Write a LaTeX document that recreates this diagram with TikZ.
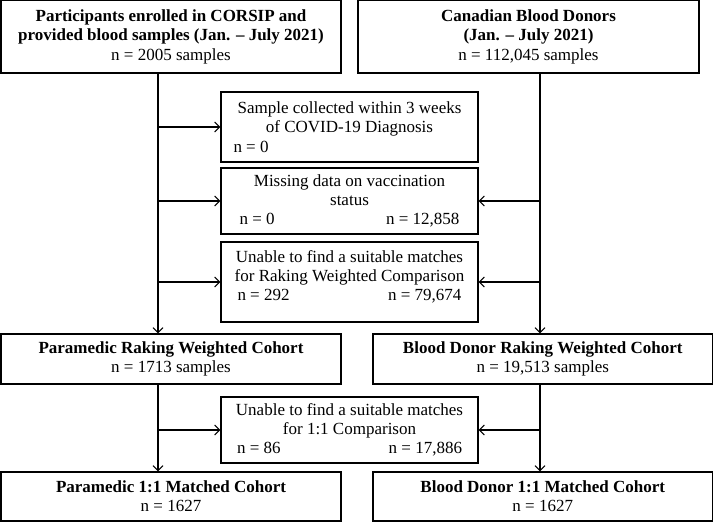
\documentclass[tikz,border=0pt]{standalone}
\usepackage{fontspec}
\setmainfont{Liberation Serif}
\usetikzlibrary{arrows.meta}
\begin{document}
\begin{tikzpicture}[x=1pt,y=-1pt,
  box/.style={draw, line width=1.1pt, rectangle, inner sep=0pt, align=center,
    font=\fontsize{17}{19.2}\selectfont},
  txt/.style={inner sep=0pt, align=center, font=\fontsize{17}{19.2}\selectfont},
  arr/.style={line width=1.1pt, -{Straight Barb[length=5pt,width=10pt,line width=1.1pt]}},
  ln/.style={line width=1.1pt}]
\useasboundingbox[fill=white] (0,0) rectangle (714,522);
\coordinate (lx) at (158,0);
\coordinate (rx) at (540,0);
% top boxes
\node[box, minimum width=340, minimum height=72.5] (top1) at (171,36.75)
  {\textbf{Participants enrolled in CORSIP and}\\
   \textbf{provided blood samples (Jan. – July 2021)}\\
   n = 2005 samples};
\node[box, minimum width=341, minimum height=72.5] (top2) at (528.5,36.75)
  {\textbf{Canadian Blood Donors}\\
   \textbf{(Jan. – July 2021)}\\
   n = 112,045 samples};
% exclusion boxes
\node[box, minimum width=257, minimum height=70] (x1) at (349.5,127)
  {Sample collected within 3 weeks\\
   of COVID-19 Diagnosis\\
   \makebox[232pt][l]{n = 0}};
\node[box, minimum width=257, minimum height=66] (x2) at (349.5,201)
  {Missing data on vaccination\\
   status\\
   \makebox[220pt]{n = 0\hfill n = 12,858}};
\node[box, minimum width=257, minimum height=80] (x3) at (349.5,282) {};
\node[txt] (x3t) at (349.5,277)
  {Unable to find a suitable matches\\
   for Raking Weighted Comparison\\
   \makebox[224pt]{n = 292\hfill n = 79,674}};
% middle boxes
\node[box, minimum width=340, minimum height=50] (mid1) at (171,359)
  {\textbf{Paramedic Raking Weighted Cohort}\\
   n = 1713 samples};
\node[box, minimum width=339.5, minimum height=50] (mid2) at (542.75,359)
  {\textbf{Blood Donor Raking Weighted Cohort}\\
   n = 19,513 samples};
% second exclusion
\node[box, minimum width=257, minimum height=66] (x4) at (349.5,430)
  {Unable to find a suitable matches\\
   for 1:1 Comparison\\
   \makebox[225pt]{n = 86\hfill n = 17,886}};
% bottom boxes
\node[box, minimum width=340, minimum height=49] (bot1) at (171,496.5)
  {\textbf{Paramedic 1:1 Matched Cohort}\\
   n = 1627};
\node[box, minimum width=339.5, minimum height=49] (bot2) at (542.75,496.5)
  {\textbf{Blood Donor 1:1 Matched Cohort}\\
   n = 1627};
% vertical flows
\draw[arr] (top1.south -| lx) -- (mid1.north -| lx);
\draw[arr] (top2.south -| rx) -- (mid2.north -| rx);
\draw[arr] (mid1.south -| lx) -- (bot1.north -| lx);
\draw[arr] (mid2.south -| rx) -- (bot2.north -| rx);
% side arrows
\draw[arr] (lx |- x1.west) -- (x1.west);
\draw[arr] (lx |- x2.west) -- (x2.west);
\draw[arr] (lx |- x3.west) -- (x3.west);
\draw[arr] (rx |- x2.east) -- (x2.east);
\draw[arr] (rx |- x3.east) -- (x3.east);
\draw[arr] (lx |- x4.west) -- (x4.west);
\draw[arr] (rx |- x4.east) -- (x4.east);
\end{tikzpicture}
\end{document}
